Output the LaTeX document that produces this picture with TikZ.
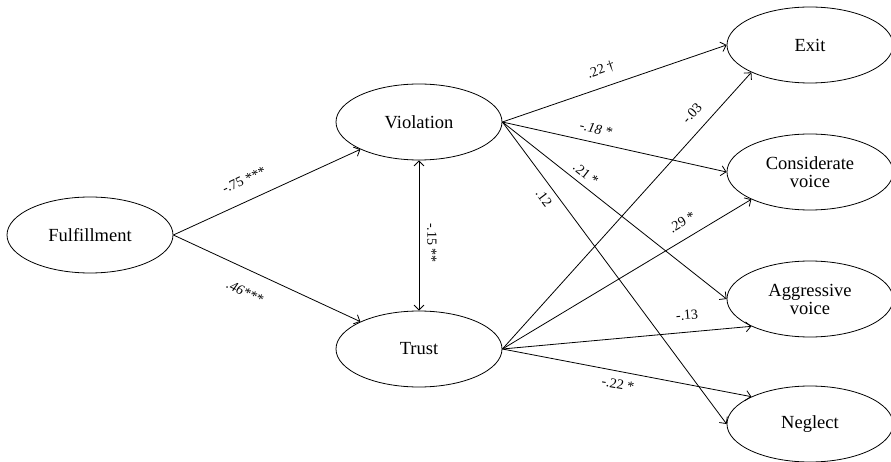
\documentclass[tikz,border=0pt]{standalone}
\usepackage{fontspec}
\setmainfont{Liberation Serif}
\usetikzlibrary{shapes.geometric,arrows.meta}
\begin{document}
\begin{tikzpicture}[x=1pt,y=-1pt,
  lat/.style={ellipse,draw,line width=0.8pt,minimum width=166pt,minimum height=76pt,inner sep=0pt,align=center,font=\fontsize{18.5}{18}\selectfont},
  pth/.style={line width=0.8pt,-{Straight Barb[length=5pt,width=10pt]}},
  coef/.style={font=\fontsize{14}{15}\selectfont,inner sep=0pt}]
\useasboundingbox (0,0) rectangle (891,462);
\node[lat] (ful) at (90,235) {Fulfillment};
\node[lat] (vio) at (419,122) {Violation};
\node[lat] (tru) at (419,349) {Trust};
\node[lat] (exi) at (810,45) {Exit};
\node[lat] (con) at (810,172) {Considerate\\voice};
\node[lat] (agg) at (810,299) {Aggressive\\voice};
\node[lat] (neg) at (810,424) {Neglect};

\draw[pth] (ful.east) -- (vio.205);
\draw[pth] (ful.east) -- (tru.155);
\draw[line width=0.8pt,{Straight Barb[length=5pt,width=10pt]}-{Straight Barb[length=5pt,width=10pt]}] (vio.south) -- (tru.north);
\draw[pth] (vio.east) -- (exi.west);
\draw[pth] (vio.east) -- (con.west);
\draw[pth] (vio.east) -- (agg.west);
\draw[pth] (vio.east) -- (neg.west);
\draw[pth] (tru.east) -- (exi.205);
\draw[pth] (tru.east) -- (con.205);
\draw[pth] (tru.east) -- (agg.205);
\draw[pth] (tru.east) -- (neg.155);

\node[coef,rotate=25] (l1) at (244,180) {-.75 ***};
\node[coef,rotate=-25] (l2) at (245,292) {\itshape .46***};
\node[coef,rotate=-90] (l3) at (432,243) {-.15 **};
\node[coef,rotate=19] (l4) at (601,70) {.22 †};
\node[coef,rotate=48] (l5) at (692,113) {-.03};
\node[coef,rotate=-12.5] (l6) at (596,129) {\itshape -.18 *};
\node[coef,rotate=-38] (l7) at (586,174) {.21 *};
\node[coef,rotate=-53] (l8) at (544,198) {.12};
\node[coef,rotate=31] (l9) at (682,222) {.29 *};
\node[coef,rotate=5] (l10) at (687,315) {-.13};
\node[coef,rotate=-10] (l11) at (618,384) {-.22 *};
\end{tikzpicture}
\end{document}
